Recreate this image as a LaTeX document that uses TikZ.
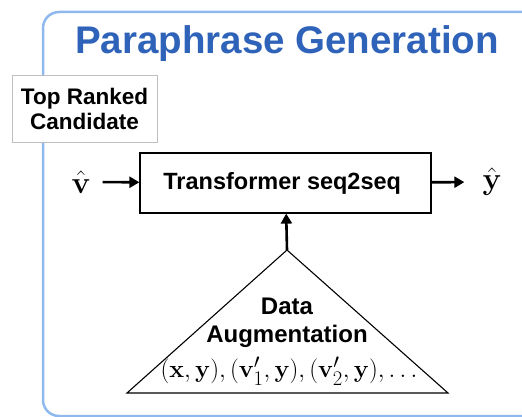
\documentclass[tikz,border=0pt]{standalone}
\usepackage{amsmath}
\usepackage{amssymb}
\usepackage[no-math]{fontspec}
\setmainfont{Liberation Sans}
\usetikzlibrary{arrows.meta}
\definecolor{azulmarco}{HTML}{8FB9EE}
\definecolor{azultitulo}{HTML}{2F63B9}

\begin{document}
\begin{tikzpicture}[x=1pt,y=-1pt,
	caja/.style={draw=black, line width=1.2pt, inner sep=0pt},
	flecha/.style={-{Triangle[length=10pt,width=11pt]}, line width=2.6pt},
	negrita/.style={font=\bfseries\fontsize{24}{28}\selectfont, align=center}]
	\clip (0,0) rectangle (522,417);
	
	% marco azul
	\draw[azulmarco, line width=2.5pt, rounded corners=16pt] (540,12) -- (43,12) -- (43,416) -- (540,416);
	
	\draw (287,44) node[text=azultitulo, font=\bfseries\fontsize{38.5}{44}\selectfont] (titulo)
	{
		Paraphrase Generation
	};
	
	\draw (84.5,108.5) node[negrita, draw=black!25, fill=white, line width=0.6pt, minimum width=145pt, minimum height=67pt, inner sep=0pt, font=\bfseries\fontsize{22.5}{25}\selectfont] (candidato)
	{
		Top Ranked \\
		Candidate
	};
	
	\draw (285.5,183) node[caja, negrita, minimum width=291pt, minimum height=60pt, font=\bfseries\fontsize{23.5}{28}\selectfont] (modelo)
	{
		Transformer seq2seq
	};
	
	\draw (81,182) node[inner ysep=4pt, inner xsep=12pt, font=\Huge] (vgorro)
	{
		\scalebox{1.25}{$\hat{\mathbf{v}}$}
	};
	
	\draw (492,182) node[inner ysep=4pt, inner xsep=18pt, font=\Huge] (ygorro)
	{
		\scalebox{1.25}{$\hat{\mathbf{y}}$}
	};
	
	\draw [flecha] (vgorro) -- (modelo);
	\draw [flecha] (modelo) -- (ygorro);
	
	% triangulo de datos
	\coordinate (cima) at (287,250);
	\draw [line width=1.1pt] (cima) -- (448,393) -- (127,393) -- cycle;
	\draw [flecha] (cima) -- (modelo);
	
	\draw (287,323) node[negrita] (datos)
	{
		Data \\
		Augmentation
	};
	
	\draw (289,371) node[font=\Huge] (pares)
	{
		$(\mathbf{x},\mathbf{y}),(\mathbf{v}'_1,\mathbf{y}),(\mathbf{v}'_2,\mathbf{y}),\ldots$
	};
\end{tikzpicture}
\end{document}
